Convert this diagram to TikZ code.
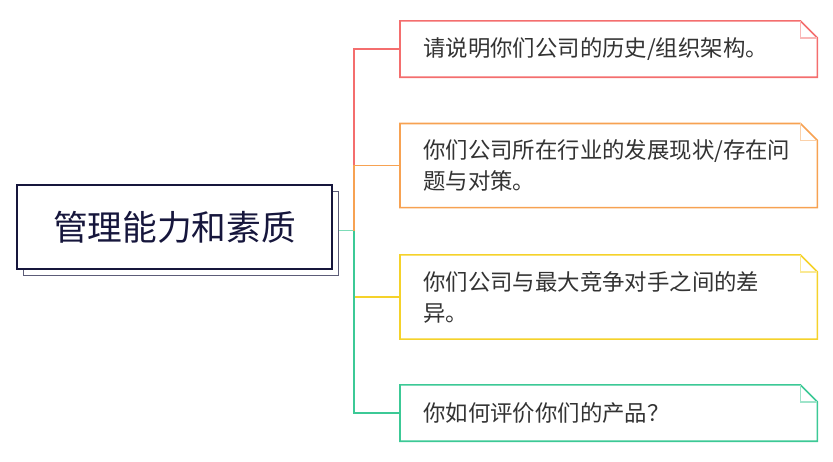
\documentclass[tikz,border=0pt]{standalone}
\usepackage{fontspec}
\setmainfont{Noto Sans CJK SC}
\usetikzlibrary{calc}

\definecolor{navy}{HTML}{16163C}
\definecolor{shadowgrey}{HTML}{5C5C78}
\definecolor{textgrey}{HTML}{333333}
\definecolor{redline}{HTML}{F46E6E}
\definecolor{orangeline}{HTML}{F7A252}
\definecolor{yellowline}{HTML}{F5D22A}
\definecolor{greenline}{HTML}{3CC996}
\definecolor{tealline}{HTML}{7DDCB8}

% outline of a note box with a folded top right corner
\newcommand{\notefold}[2]{%
  \draw[#2, line width=1.6pt] (#1.north west) -- ([xshift=-17pt]#1.north east)
    -- ([yshift=-17pt]#1.north east) -- (#1.south east) -- (#1.south west) -- cycle;
  \draw[#2!50, line width=1.6pt] ([xshift=-17pt]#1.north east) |- ([yshift=-17pt]#1.north east);
}

\begin{document}
\begin{tikzpicture}[x=1pt, y=-1pt,
  mainbox/.style={draw, fill=white, line width=1.8pt, minimum width=315pt, minimum height=84pt},
  notebox/.style={anchor=west, fill=white, text=textgrey, inner xsep=23pt, inner ysep=16pt,
    text width=371pt, align=left, minimum height=56pt, font=\fontsize{22.4}{31}\selectfont},
  link/.style={line width=1.7pt}]

  \useasboundingbox (0,0) rectangle (833,461);

  %% central topic with its shadow
  \node[mainbox, draw=shadowgrey] (mainshadow) at (181,233.5) {};
  \node[mainbox, draw=navy, text=navy, font=\fontsize{34.7}{40}\selectfont] (main) at (174.5,227) {管理能力和素质};

  %% sub topics
  \node[notebox] (q1) at (400,49) {请说明你们公司的历史/组织架构。};
  \node[notebox] (q2) at (400,165.5) {你们公司所在行业的发展现状/存在问\\题与对策。};
  \node[notebox] (q3) at (400,297) {你们公司与最大竞争对手之间的差\\异。};
  \node[notebox] (q4) at (400,413) {你如何评价你们的产品？};

  \notefold{q1}{redline}
  \notefold{q2}{orangeline}
  \notefold{q3}{yellowline}
  \notefold{q4}{greenline}

  %% connectors
  \coordinate (hub) at (354,230.5);
  \draw[link, tealline] (mainshadow.east |- hub) -- (hub);
  \draw[link, redline] (hub) |- (q1.west);
  \draw[link, orangeline] (hub) |- (q2.west);
  \draw[link, yellowline] (hub) |- (q3.west);
  \draw[link, greenline] (hub) |- (q4.west);
\end{tikzpicture}
\end{document}
